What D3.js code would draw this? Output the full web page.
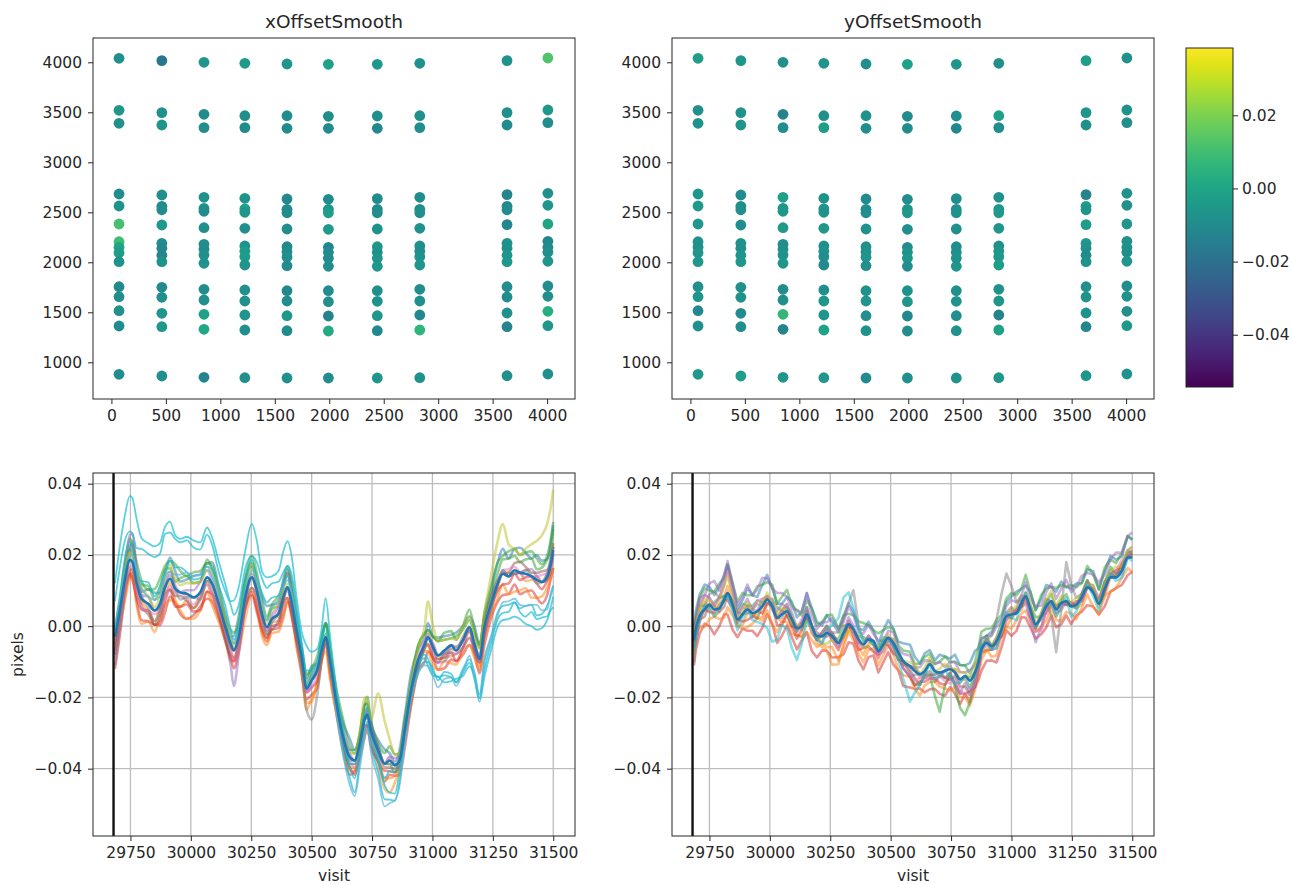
<!DOCTYPE html>
<html><head><meta charset="utf-8">
<script src="https://cdn.jsdelivr.net/npm/d3@7"></script>
<style>
html,body{margin:0;padding:0;background:#fff;}
svg{display:block;font-family:"DejaVu Sans",sans-serif;}
</style></head><body>
<svg id="chart" width="1292" height="884"></svg>
<script>
// ---------------- DATA ----------------
const scatterTitles = ["xOffsetSmooth", "yOffsetSmooth"];
const scatterXTicks = [0, 500, 1000, 1500, 2000, 2500, 3000, 3500, 4000];
const scatterYTicks = [1000, 1500, 2000, 2500, 3000, 3500, 4000];
const colorbarTicks = [-0.04, -0.02, 0.00, 0.02];
const visitTicks = [29750, 30000, 30250, 30500, 30750, 31000, 31250, 31500];
const pixelTicks = [-0.04, -0.02, 0.00, 0.02, 0.04];
const markerVisit = 29680;

const scatterColX = [70, 463, 850, 1225, 1612, 1992, 2441, 2831, 3632, 4007];
const scatterColY = [
  [4040, 3520, 3390, 2683, 2563, 2383, 2206, 2150, 2096, 2006, 1756, 1656, 1516, 1363, 880],
  [4017, 3497, 3373, 2673, 2560, 2525, 2373, 2190, 2140, 2070, 2006, 1750, 1650, 1490, 1356, 863],
  [4000, 3480, 3347, 2650, 2540, 2510, 2346, 2180, 2130, 2073, 1990, 1730, 1623, 1480, 1330, 850],
  [3990, 3466, 3347, 2640, 2535, 2500, 2340, 2163, 2110, 2056, 1973, 1723, 1613, 1473, 1323, 846],
  [3983, 3466, 3340, 2633, 2530, 2495, 2333, 2156, 2105, 2050, 1966, 1716, 1613, 1466, 1316, 843],
  [3980, 3460, 3340, 2630, 2530, 2495, 2330, 2150, 2100, 2040, 1960, 1716, 1606, 1463, 1313, 843],
  [3980, 3463, 3340, 2637, 2530, 2495, 2333, 2156, 2100, 2040, 1960, 1716, 1610, 1466, 1316, 843],
  [3990, 3466, 3347, 2650, 2530, 2495, 2340, 2163, 2110, 2056, 1973, 1730, 1613, 1473, 1323, 846],
  [4017, 3497, 3373, 2677, 2560, 2525, 2377, 2190, 2140, 2070, 2006, 1756, 1653, 1493, 1356, 866],
  [4043, 3523, 3397, 2690, 2570, 2383, 2210, 2150, 2100, 2010, 1763, 1660, 1510, 1366, 883]
];
const xOffsetVals = [
  [-0.008, -0.006, -0.008, -0.009, -0.007, 0.011, 0.010, 0.000, -0.003, -0.007, -0.010, -0.009, -0.008, -0.010, -0.009],
  [-0.018, -0.008, -0.006, -0.008, -0.010, -0.009, -0.005, -0.009, -0.011, -0.012, -0.007, -0.010, -0.008, -0.006, -0.005, -0.008],
  [-0.006, -0.010, -0.009, -0.007, -0.008, -0.010, -0.008, -0.009, -0.010, -0.008, -0.007, -0.009, -0.008, -0.002, 0.001, -0.013],
  [-0.004, -0.009, -0.010, -0.007, -0.002, -0.006, -0.008, -0.007, -0.003, -0.003, -0.006, -0.008, -0.007, -0.006, -0.008, -0.008],
  [-0.006, -0.009, -0.010, -0.011, -0.009, -0.010, -0.009, -0.011, -0.009, -0.008, -0.010, -0.011, -0.009, -0.005, -0.010, -0.008],
  [-0.002, -0.009, -0.010, -0.010, -0.006, -0.003, -0.004, -0.011, -0.010, -0.010, -0.009, -0.010, -0.008, -0.013, 0.002, -0.009],
  [-0.004, -0.008, -0.011, -0.010, -0.010, -0.009, -0.007, -0.006, -0.007, -0.006, -0.005, -0.008, -0.007, -0.005, -0.011, -0.006],
  [-0.007, -0.008, -0.009, -0.009, -0.010, -0.008, -0.007, -0.008, -0.009, -0.007, -0.006, -0.009, -0.008, -0.011, 0.006, -0.007],
  [-0.007, -0.008, -0.010, -0.012, -0.011, -0.010, -0.011, -0.007, -0.008, -0.006, -0.005, -0.009, -0.010, -0.008, -0.012, -0.008],
  [0.013, -0.005, -0.009, -0.008, -0.006, 0.000, -0.011, -0.010, -0.008, -0.006, -0.009, -0.008, 0.003, -0.006, -0.008]
];
const yOffsetVals = [
  [-0.003, -0.008, -0.007, -0.006, -0.004, -0.005, -0.007, -0.008, -0.006, -0.005, -0.008, -0.006, -0.011, -0.008, -0.004],
  [-0.006, -0.007, -0.006, -0.010, -0.009, -0.008, -0.009, -0.007, -0.008, -0.006, -0.005, -0.008, -0.007, -0.010, -0.009, -0.003],
  [-0.008, -0.013, -0.009, -0.002, -0.006, -0.005, -0.004, -0.009, -0.008, -0.007, -0.006, -0.009, -0.008, 0.007, -0.013, -0.006],
  [-0.006, -0.008, -0.003, -0.007, -0.006, -0.007, -0.005, -0.008, -0.007, -0.009, -0.010, -0.008, -0.005, -0.006, -0.001, -0.005],
  [-0.008, -0.007, -0.009, -0.010, -0.008, -0.009, -0.007, -0.008, -0.007, -0.006, -0.008, -0.007, -0.006, -0.008, -0.007, -0.010],
  [-0.002, -0.010, -0.010, -0.009, -0.006, -0.005, -0.008, -0.009, -0.007, -0.006, -0.009, -0.007, -0.006, -0.011, -0.009, -0.008],
  [-0.006, -0.008, -0.011, -0.009, -0.008, -0.007, -0.008, -0.009, -0.008, -0.007, -0.006, -0.008, -0.007, -0.009, -0.007, -0.007],
  [-0.008, -0.002, -0.009, -0.007, -0.006, -0.004, -0.006, -0.008, -0.006, -0.005, -0.003, -0.007, -0.006, -0.013, -0.002, -0.005],
  [-0.003, -0.006, -0.008, -0.013, -0.003, -0.006, -0.003, -0.005, -0.007, -0.010, -0.007, -0.008, -0.007, -0.007, -0.012, -0.006],
  [-0.007, -0.007, -0.008, -0.007, -0.008, -0.006, -0.008, -0.007, -0.009, -0.006, -0.009, -0.007, -0.008, -0.004, -0.007]
];

// x offset time series (left): visits and mean
const visitsL = [29686,29706,29726,29748,29758,29776,29796,29824,29850,29872,
 29893,29914,29935,29956,29983,30011,30039,30067,30088,30115,
 30143,30165,30178,30198,30225,30252,30273,30294,30315,30335,
 30363,30383,30400,30418,30438,30459,30479,30500,30523,30541,
 30558,30576,30603,30630,30658,30678,30699,30720,30730,30745,
 30775,30802,30823,30844,30864,30885,30912,30940,30968,30981,
 31002,31023,31050,31078,31098,31126,31153,31174,31195,31215,
 31243,31270,31291,31315,31340,31362,31385,31410,31432,31452,
 31475,31490,31500];
const meanL = [-0.0030,0.0044,0.0128,0.0186,0.0180,0.0119,0.0077,0.0063,0.0044,0.0063,
 0.0109,0.0133,0.0105,0.0095,0.0091,0.0081,0.0095,0.0137,0.0119,0.0063,
 -0.0003,-0.0050,-0.0068,-0.0031,0.0081,0.0137,0.0100,0.0035,-0.0003,0.0020,
 0.0035,0.0081,0.0109,0.0063,-0.0012,-0.0087,-0.0175,-0.0152,-0.0124,-0.0068,
 -0.0031,-0.0096,-0.0218,-0.0311,-0.0367,-0.0377,-0.0330,-0.0260,-0.0248,-0.0293,
 -0.0349,-0.0386,-0.0377,-0.0390,-0.0377,-0.0293,-0.0180,-0.0096,-0.0050,-0.0031,
 -0.0059,-0.0082,-0.0068,-0.0054,-0.0068,-0.0040,-0.0003,-0.0050,-0.0092,-0.0003,
 0.0063,0.0119,0.0147,0.0140,0.0157,0.0150,0.0147,0.0140,0.0130,0.0124,
 0.0138,0.0175,0.0213];
// per-detector residuals from the mean, in units of 0.001 pixel
const bandColorsL = ["#1f77b4","#d62728","#2ca02c","#ff7f0e",
                     "#ff7f0e","#2ca02c","#d62728","#9467bd","#8c564b","#e377c2","#7f7f7f","#bcbd22"];
const bandResidL = [
 [-5,-3,1,4,5,3,2,4,5,3, 4,6,5,3,4,6,5,4,6,5, 3,2,4,6,5,4,3,5,6,4, 3,5,6,4,3,2,3,4,2,3,
  4,3,2,4,5,3,2,4,3,2, 3,4,2,1,3,4,5,3,2,4, 3,5,4,3,5,4,3,5,4,3, 4,6,7,5,6,7,6,5,7,6, 5,6,7],
 [-9,-7,-5,-4,-3,-5,-6,-5,-4,-6, -7,-5,-4,-6,-7,-5,-4,-6,-5,-4, -3,-4,-5,-4,-3,-5,-6,-5,-4,-3, -4,-5,-4,-3,-4,-5,-3,-4,-5,-3,
  -2,-4,-3,-4,-5,-3,-4,-5,-3,-4, -3,-5,-4,-3,-4,-5,-4,-3,-5,-4, -3,-4,-5,-4,-3,-4,-5,-3,-4,-5, -4,-5,-6,-5,-4,-6,-5,-4,-5,-6, -5,-4,-5],
 [-1,1,4,6,5,6,5,4,6,7, 6,5,7,6,5,7,6,4,5,4, 3,4,5,4,5,6,5,4,3,4, 5,4,5,6,4,3,4,3,2,3,
  4,3,4,5,3,2,3,4,5,3, 2,3,4,3,2,3,2,4,3,2, 3,4,5,4,3,4,5,4,3,4, 5,6,5,7,6,5,6,7,6,5, 6,7,8],
 [-2,-4,-6,-5,-4,-6,-7,-5,-6,-4, -5,-6,-4,-5,-7,-6,-5,-4,-6,-5, -4,-5,-3,-4,-6,-5,-4,-6,-5,-4, -5,-6,-4,-3,-5,-4,-6,-5,-4,-3,
  -4,-5,-3,-2,-4,-3,-2,-4,-5,-3, -2,-4,-5,-3,-2,-3,-4,-3,-2,-4, -5,-4,-3,-5,-4,-3,-5,-4,-3,-2, -3,-4,-3,-5,-6,-5,-4,-6,-5,-4, -3,-4,-5],
 [-3,-2,-1,-2,-4,-3,-1,-2,-3,-1, -2,-1,-3,-4,-2,-3,-1,-2,-4,-3, -2,-1,-3,-2,-1,-3,-2,-4,-3,-1, -2,-1,-3,-2,-2,-3,-4,-6,-3,-2,
  -1,-3,-2,-1,-3,-2,-1,-2,-3,-1, -4,-7,-9,-5,-2,-1,-3,-2,-1,-2, -3,-1,-2,-3,-1,-2,-3,-1,-2,-3, -2,-1,0,1,-1,0,-2,-1,1,0, -1,0,1],
 [2,3,4,3,2,3,4,5,3,4, 5,3,2,4,5,4,3,5,4,3, 2,1,2,3,4,3,2,1,2,3, 2,3,4,3,2,1,2,3,4,3,
  4,3,2,1,2,3,2,4,3,2, 1,0,-1,-2,1,2,3,4,3,2, 3,4,3,2,4,3,2,3,4,3, 2,3,4,5,4,3,4,5,3,4, 5,4,6],
 [-5,-4,-3,-4,-5,-4,-3,-2,-4,-5, -4,-3,-5,-4,-3,-4,-5,-4,-3,-2, -3,-4,-3,-2,-3,-4,-5,-4,-3,-2, -3,-2,-3,-4,-3,-2,-1,-2,-3,-2,
  -1,-2,-1,-2,-3,-4,-3,-2,-3,-4, -3,-2,-3,-2,-1,-2,-3,-2,-1,-2, -3,-2,-1,-2,-3,-2,-1,-2,-1,-2, -1,-2,-3,-2,-1,-2,-1,0,-1,-2, -1,-2,-1],
 [-2,0,3,7,8,4,1,2,0,-1, 1,2,1,0,1,2,3,2,1,0, -2,-6,-10,-5,-1,0,1,0,-1,1, 2,3,4,3,1,0,-1,0,1,0,
  -1,0,1,2,1,0,-1,0,1,2, 1,0,1,2,1,0,-1,-2,-1,0, -1,-2,-3,-2,-1,-2,-3,-2,-1,-2, -1,0,1,0,-1,0,1,2,1,0, 1,2,1],
 [-4,-3,-2,-3,-2,-1,-2,-3,-4,-3, -2,-3,-2,-1,-2,-3,-2,-1,-2,-3, -4,-3,-2,-1,-2,-3,-2,-1,-2,-3, -2,-1,0,-1,-2,-1,0,1,0,-1,
  0,1,0,-1,-2,-1,0,1,2,1, 0,-1,-2,-1,0,1,0,-1,0,1, 0,-1,-2,-1,0,1,0,-1,0,1, 2,1,0,1,2,3,2,1,2,3, 2,1,2],
 [-6,-5,-3,-2,-1,-2,-3,-2,-1,-2, -3,-2,-1,0,-1,-2,-1,-2,-3,-2, -1,-2,-3,-2,-1,0,-1,-2,-1,0, 1,0,-1,0,1,0,-1,-2,-1,0,
  -1,0,1,0,-1,-2,-1,0,-1,-2, -1,0,1,0,-1,0,1,2,1,0, 1,0,-1,0,1,0,-1,0,1,0, -1,0,1,2,1,0,-1,0,1,2, 1,0,-1],
 [-8,-5,-2,2,6,3,1,-1,-3,-2, 0,1,0,-2,-1,0,-2,-1,0,1, 0,-1,0,1,2,1,0,-1,-2,-1, 0,1,0,-1,-2,-4,-6,-11,-7,-3,
  -1,0,1,0,-1,0,1,0,-1,0, 1,0,-1,0,1,2,1,0,-1,0, 1,0,-1,0,1,0,-1,0,1,0, -1,0,1,0,-1,0,1,0,-1,0, 1,0,1],
 [0,2,3,2,1,2,3,2,1,2, 3,4,3,2,3,4,3,2,3,4, 3,2,1,2,3,4,3,2,1,2, 3,2,1,2,1,0,1,2,1,0,
  1,2,1,0,1,2,3,6,4,3, 16,12,6,3,2,1,2,3,5,10, 6,4,3,2,3,4,3,2,3,4, 8,12,14,9,6,5,7,9,11,13, 15,16,17]
];
const outColorsL = ["#17becf","#17becf","#17becf","#5fb3d9"];
const outResidL = [
 [15,18,18,18,18,18,17,17,18,17, 17,16,15,15,16,16,14,14,13,12, 12,12,14,14,13,15,14,12,14,12, 12,13,13,13,9,7,12,8,6,6,
  11,7,4,2,-2,-1,0,1,0,-1, -3,-4,-3,-2,0,1,0,-1,-3,-6, -7,-6,-7,-9,-9,-9,-10,-10,-12,-14, -13,-12,-13,-12,-13,-13,-14,-14,-14,-13, -12,-13,-16],
 [10,12,11,8,8,10,14,14,15,14, 15,13,14,14,15,14,12,12,11,9, 10,11,10,9,8,6,8,10,11,10, 9,7,6,8,6,4,5,3,2,3,
  3,2,1,-1,-3,-5,-2,1,2,1, -2,-6,-9,-8,-3,0,1,-1,-4,-8, -8,-6,-9,-10,-8,-10,-11,-9,-11,-12, -11,-10,-11,-10,-9,-11,-12,-10,-11,-10, -11,-12,-13],
 [3,4,6,5,4,3,5,6,4,5, 4,5,6,7,6,5,4,3,4,5, 6,4,3,3,4,5,4,6,7,6, 5,4,3,2,3,2,1,2,1,0,
  1,-1,-2,-4,-6,-9,-5,-3,-2,-4, -6,-10,-11,-10,-6,-3,-2,-3,-5,-7, -6,-7,-6,-8,-9,-8,-9,-8,-10,-9, -9,-8,-9,-8,-9,-10,-9,-8,-10,-9, -8,-9,-10],
 [2,3,2,1,2,4,3,2,3,2, 3,2,4,5,6,6,5,3,2,3, 4,3,2,2,1,2,3,3,2,3, 4,3,2,3,2,1,0,1,2,1,
  0,-1,-3,-5,-8,-10,-7,-5,-4,-6, -8,-12,-12,-10,-7,-4,-3,-4,-6,-8, -8,-9,-8,-9,-10,-9,-8,-9,-11,-10, -10,-9,-8,-7,-8,-9,-9,-8,-7,-8, -9,-8,-10]
];

// y offset time series (right)
const visitsR = [29686,29693,29709,29730,29750,29770,29791,29811,29825,29846,
 29866,29887,29907,29928,29948,29969,29989,30010,30030,30050,
 30071,30091,30112,30132,30153,30174,30195,30216,30236,30257,
 30284,30305,30326,30346,30367,30387,30408,30429,30449,30470,
 30490,30511,30532,30552,30580,30600,30621,30641,30662,30683,
 30703,30725,30746,30766,30787,30808,30828,30849,30863,30876,
 30897,30918,30938,30959,30979,31000,31021,31041,31059,31078,
 31100,31124,31144,31165,31185,31206,31227,31247,31268,31291,
 31314,31338,31362,31386,31410,31433,31457,31481,31500];
const meanR = [-0.0040,-0.0009,0.0028,0.0047,0.0060,0.0047,0.0050,0.0074,0.0093,0.0060,
 0.0019,0.0033,0.0047,0.0037,0.0042,0.0056,0.0074,0.0056,0.0023,0.0033,
 0.0042,0.0019,-0.0005,0.0000,0.0033,0.0000,-0.0028,-0.0028,-0.0019,-0.0028,
 -0.0047,-0.0019,0.0005,-0.0009,-0.0037,-0.0051,-0.0037,-0.0042,-0.0070,-0.0051,
 -0.0033,-0.0047,-0.0074,-0.0098,-0.0112,-0.0126,-0.0135,-0.0126,-0.0107,-0.0126,
 -0.0130,-0.0125,-0.0121,-0.0130,-0.0149,-0.0140,-0.0153,-0.0130,-0.0102,-0.0065,
 -0.0047,-0.0056,-0.0042,-0.0009,0.0028,0.0033,0.0037,0.0065,0.0084,0.0047,
 0.0005,0.0028,0.0056,0.0070,0.0047,0.0065,0.0070,0.0056,0.0060,0.0081,
 0.0109,0.0095,0.0063,0.0105,0.0137,0.0137,0.0156,0.0193,0.0193];
const bandColorsR = ["#1f77b4","#d62728","#2ca02c","#ff7f0e","#9467bd",
                     "#ff7f0e","#2ca02c","#d62728","#9467bd","#8c564b","#e377c2","#7f7f7f","#bcbd22","#17becf"];
const bandResidR = [
 [4,5,6,7,5,4,6,7,8,5, 3,4,6,5,4,6,7,5,4,3, 4,5,3,4,6,5,4,3,5,4, 3,4,6,5,3,4,5,3,2,4,
  5,4,3,5,6,4,3,5,4,3, 5,4,3,5,4,3,5,6,4,3, 2,4,5,3,4,5,6,4,3,5, 4,5,6,4,5,6,4,5,6,4, 5,6,4,5,6,5,4,6,5],
 [-7,-6,-5,-4,-6,-7,-5,-4,-6,-7, -5,-4,-6,-5,-7,-6,-4,-5,-7,-6, -4,-5,-6,-4,-5,-7,-6,-4,-5,-6, -4,-6,-5,-4,-6,-7,-5,-4,-6,-5,
  -4,-6,-5,-7,-6,-5,-4,-6,-7,-5, -6,-7,-5,-6,-7,-5,-6,-4,-5,-6, -5,-4,-6,-5,-4,-6,-5,-4,-6,-5, -4,-5,-6,-4,-5,-6,-4,-5,-3,-4, -5,-4,-3,-5,-4,-3,-4,-5,-4],
 [2,3,5,6,4,5,7,6,8,6, 5,6,4,5,7,6,5,6,4,5, 6,4,5,3,4,5,3,4,5,6, 4,5,3,4,5,6,4,3,5,4,
  3,4,2,3,4,2,3,4,3,2, 3,4,2,3,4,3,2,3,4,5, 4,5,6,4,5,6,5,4,6,5, 4,6,5,4,6,5,4,6,5,4, 6,5,4,6,5,4,5,6,5],
 [-4,-2,-3,-5,-4,-2,-3,-5,-4,-3, -2,-4,-5,-3,-2,-4,-3,-5,-4,-2, -3,-4,-2,-3,-5,-4,-3,-2,-4,-3, -5,-4,-2,-3,-4,-5,-3,-2,-4,-3,
  -2,-3,-5,-4,-3,-5,-6,-4,-5,-3, -4,-5,-6,-4,-5,-6,-7,-5,-4,-3, -2,-3,-4,-2,-3,-4,-2,-3,-4,-3, -2,-3,-4,-2,-3,-5,-3,-2,-4,-3, -2,-4,-3,-2,-4,-3,-2,-3,-4],
 [1,3,5,4,6,8,5,7,9,6, 4,5,7,5,6,8,6,5,7,6, 4,3,5,4,6,3,2,4,3,5, 4,3,5,4,2,3,4,2,3,1,
  2,3,1,2,3,1,2,3,1,2, 3,1,2,3,2,1,3,2,1,3, 2,3,4,2,3,4,3,2,4,3, 5,3,4,5,3,4,6,4,5,6, 4,5,6,4,5,7,5,6,7],
 [-3,-1,1,2,0,-2,-1,1,2,0, -2,-3,-1,0,-2,-3,-1,1,0,-2, -1,0,-2,-3,-1,0,-2,-3,-5,-8, -6,-3,-1,0,-2,-3,-1,0,-2,-1,
  1,0,-2,-1,0,1,-1,-2,-3,-1, 0,-2,-1,1,0,-1,-2,0,1,-1, -2,-1,0,-2,-3,-1,0,-2,-1,0, -2,-3,-1,0,-2,-1,0,1,-1,-2, 0,1,-1,-2,0,1,2,0,1],
 [1,2,3,1,0,2,3,1,-1,0, 2,3,1,2,3,1,0,2,3,1, 2,0,-1,1,2,0,-1,1,2,0, 1,2,0,-1,1,2,0,-1,1,2,
  0,-1,-2,0,-2,-4,-3,-1,-3,-7, -11,-4,-1,-4,-8,-11,-6,-2,0,1, 2,0,1,2,0,-1,1,2,0,1, 2,0,1,2,0,1,2,0,-1,1, 2,0,1,2,3,1,0,2,1],
 [-2,-3,-1,0,-2,-1,1,0,-2,-1, 0,-2,-3,-1,0,-2,-1,0,-2,-3, -1,-2,-3,-1,0,-2,-1,0,1,-1, -2,-1,0,-2,-3,-1,-2,-3,-1,0,
  -2,-3,-1,-2,-3,-4,-2,-3,-4,-2, -3,-4,-2,-3,-4,-5,-3,-4,-2,-1, -2,-1,0,-2,-1,0,1,-1,0,-2, -1,0,-2,-1,1,0,-1,0,1,-1, 0,1,0,-1,1,2,1,0,1],
 [0,1,3,4,2,1,3,5,7,4, 1,2,3,1,0,2,1,0,2,3, 1,0,-1,1,2,0,-1,-2,0,1, -1,0,2,1,0,-1,1,0,-1,-2,
  0,1,-1,-2,-3,-1,0,-2,-3,-1, 0,-2,-1,-3,-4,-2,-3,-4,-2,-1, 0,-1,-2,-1,0,1,0,-1,-2,-3, -5,-3,-1,0,-1,-2,0,1,0,-1, 1,2,1,0,1,0,-1,0,1],
 [-1,0,-1,-2,0,1,-1,-2,0,1, -1,0,1,-1,-2,0,1,-1,0,1, -1,-2,0,1,-1,0,1,0,-1,1, 0,-1,1,0,-1,0,1,-1,0,1,
  0,-1,-2,0,-1,-2,-3,-1,-2,-3, -1,-2,-3,-1,-2,-3,-4,-2,-1,0, 1,0,-1,0,1,2,0,-1,1,0, -1,1,2,0,1,0,-1,1,0,1, 2,0,1,2,1,0,2,1,2],
 [2,1,3,4,2,1,3,4,6,3, 1,2,0,1,3,2,1,2,0,1, 2,1,0,2,1,-1,0,1,2,0, -1,0,1,-1,-2,0,1,-1,-2,0,
  -1,-2,-1,0,-2,-3,-1,-2,-4,-2, -1,-3,-4,-2,-3,-5,-4,-3,-1,0, -1,0,1,0,-1,0,1,2,0,-1, -2,-4,-1,0,1,-1,0,1,0,-1, 0,1,2,0,1,2,3,2,3],
 [-6,-4,-2,1,3,5,3,1,0,1, 2,0,-1,1,2,0,-1,1,0,-1, 1,2,0,-1,1,0,-1,1,2,1, 3,5,6,11,4,1,0,-1,1,0,
  -1,0,1,-1,0,1,0,-1,1,0, -1,0,1,0,-1,0,1,0,-1,0, 1,3,6,10,12,8,3,1,0,1, 0,-1,1,-4,-12,-2,11,6,2,1, 0,1,0,1,2,1,0,1,0],
 [1,0,2,3,1,0,2,4,5,2, 0,1,2,0,-1,1,2,0,1,2, 0,-1,1,0,-2,-1,0,-2,-3,-1, 0,-1,-2,0,1,-1,-2,0,1,-1,
  0,1,-1,0,1,2,0,1,2,0, 1,2,0,1,2,1,0,2,1,-1, -2,0,1,-1,0,1,2,0,1,2, 0,1,2,3,1,2,0,1,2,0, 1,2,0,1,2,3,1,2,3],
 [-3,-2,0,1,-1,-2,0,1,-1,-2, -3,-1,0,-2,-3,-5,-8,-10,-6,-3, -5,-8,-9,-5,-2,0,-1,-2,1,3, 7,10,9,6,3,1,0,-1,0,1,
  0,-1,-2,-5,-10,-6,-3,-1,0,-2, -1,0,-2,-3,-1,0,-2,-1,0,1, 0,-1,-2,0,1,-1,-2,0,1,0, -1,0,1,-1,-2,0,1,-3,-2,0, 1,-1,-2,0,1,-1,-2,0,-1]
];

// ---------------- LAYOUT ----------------
const svg = d3.select('#chart');
const FS = 15.5, TITLE_FS = 18.5, INK = '#262626';
const P = {
  tl:{x0:93, x1:575, y0:38, y1:399},
  tr:{x0:672, x1:1154, y0:38, y1:399},
  bl:{x0:93, x1:575, y0:473, y1:836},
  br:{x0:672, x1:1154, y0:473, y1:836}
};
const CB = {x0:1186, x1:1233, y0:48, y1:387};
const cDomain = [-0.0543, 0.0384];
const color = v => d3.interpolateViridis((v - cDomain[0]) / (cDomain[1] - cDomain[0]));

function styleAxis(g){
  g.select('.domain').remove();
  g.selectAll('.tick line').attr('stroke', INK).attr('stroke-width', 1);
  g.selectAll('.tick text').attr('font-size', FS).attr('fill', INK).attr('font-family', '"DejaVu Sans", sans-serif');
}
function frame(p){
  svg.append('rect').attr('x', p.x0).attr('y', p.y0).attr('width', p.x1 - p.x0).attr('height', p.y1 - p.y0)
    .attr('fill', 'none').attr('stroke', INK).attr('stroke-width', 1);
}

// ---------------- SCATTER PANELS ----------------
function scatterPanel(p, vals, title){
  const x = d3.scaleLinear().domain([-169, 4256]).range([p.x0, p.x1]);
  const y = d3.scaleLinear().domain([633, 4243]).range([p.y1, p.y0]);
  const pts = [];
  scatterColX.forEach((cx, ci) => {
    const ys = scatterColY[ci], vs = vals[ci];
    for (let j = 0; j < Math.min(ys.length, vs.length); j++) pts.push({x: cx, y: ys[j], v: vs[j]});
  });
  svg.append('g').selectAll('circle').data(pts).join('circle')
    .attr('cx', d => x(d.x)).attr('cy', d => y(d.y)).attr('r', 5.4)
    .attr('fill', d => color(d.v));
  const gx = svg.append('g').attr('transform', `translate(0,${p.y1})`)
    .call(d3.axisBottom(x).tickValues(scatterXTicks).tickSize(5).tickPadding(6).tickFormat(d3.format('d')));
  styleAxis(gx);
  const gy = svg.append('g').attr('transform', `translate(${p.x0},0)`)
    .call(d3.axisLeft(y).tickValues(scatterYTicks).tickSize(5).tickPadding(6).tickFormat(d3.format('d')));
  styleAxis(gy);
  frame(p);
  svg.append('text').attr('x', (p.x0 + p.x1) / 2).attr('y', 28).attr('text-anchor', 'middle')
    .attr('font-size', TITLE_FS).attr('fill', INK).text(title);
}
scatterPanel(P.tl, xOffsetVals, scatterTitles[0]);
scatterPanel(P.tr, yOffsetVals, scatterTitles[1]);

// ---------------- COLORBAR ----------------
const defs = svg.append('defs');
const grad = defs.append('linearGradient').attr('id', 'vir').attr('x1', 0).attr('y1', 1).attr('x2', 0).attr('y2', 0);
d3.range(0, 1.0001, 0.05).forEach(t => grad.append('stop').attr('offset', t).attr('stop-color', d3.interpolateViridis(t)));
svg.append('rect').attr('x', CB.x0).attr('y', CB.y0).attr('width', CB.x1 - CB.x0).attr('height', CB.y1 - CB.y0)
  .attr('fill', 'url(#vir)').attr('stroke', INK).attr('stroke-width', 1);
const cy = d3.scaleLinear().domain(cDomain).range([CB.y1, CB.y0]);
const gcb = svg.append('g').attr('transform', `translate(${CB.x1},0)`)
  .call(d3.axisRight(cy).tickValues(colorbarTicks).tickSize(5).tickPadding(4).tickFormat(d3.format('.2f')));
styleAxis(gcb);

// ---------------- LINE PANELS ----------------
function linePanel(p, id, visits, mean, bandColors, bandResid, outColors, outResid, yLabel, bandCurve){
  const x = d3.scaleLinear().domain([29595, 31590]).range([p.x0, p.x1]);
  const y = d3.scaleLinear().domain([-0.0589, 0.0430]).range([p.y1, p.y0]);
  defs.append('clipPath').attr('id', id).append('rect')
    .attr('x', p.x0).attr('y', p.y0).attr('width', p.x1 - p.x0).attr('height', p.y1 - p.y0);
  const gg = svg.append('g');
  gg.selectAll('.vg').data(visitTicks).join('line')
    .attr('x1', d => x(d)).attr('x2', d => x(d)).attr('y1', p.y0).attr('y2', p.y1)
    .attr('stroke', '#bdbdbd').attr('stroke-width', 1.3);
  gg.selectAll('.hg').data(pixelTicks).join('line')
    .attr('x1', p.x0).attr('x2', p.x1).attr('y1', d => y(d)).attr('y2', d => y(d))
    .attr('stroke', '#bdbdbd').attr('stroke-width', 1.3);
  const smooth = d3.line().x(d => x(d[0])).y(d => y(d[1])).curve(d3.curveMonotoneX);
  const bandLine = d3.line().x(d => x(d[0])).y(d => y(d[1])).curve(bandCurve);
  const series = resid => {
    const n = Math.min(visits.length, mean.length, resid.length), out = [];
    for (let i = 0; i < n; i++) out.push([visits[i], mean[i] + resid[i] * 0.001]);
    return out;
  };
  const gl = svg.append('g').attr('clip-path', `url(#${id})`);
  bandResid.forEach((r, k) => {
    gl.append('path').attr('d', bandLine(series(r))).attr('fill', 'none')
      .attr('stroke', bandColors[k]).attr('stroke-width', 2.6).attr('stroke-opacity', 0.5)
      .attr('stroke-linejoin', 'round');
  });
  outResid.forEach((r, k) => {
    gl.append('path').attr('d', smooth(series(r))).attr('fill', 'none')
      .attr('stroke', outColors[k]).attr('stroke-width', 1.8).attr('stroke-opacity', 0.7);
  });
  const meanPts = visits.map((v, i) => [v, mean[i]]).filter(d => d[1] !== undefined);
  gl.append('path').attr('d', smooth(meanPts)).attr('fill', 'none')
    .attr('stroke', '#1f77b4').attr('stroke-width', 2.6);
  gl.append('line').attr('x1', x(markerVisit)).attr('x2', x(markerVisit)).attr('y1', p.y0).attr('y2', p.y1)
    .attr('stroke', '#111').attr('stroke-width', 2.4);
  const gx = svg.append('g').attr('transform', `translate(0,${p.y1})`)
    .call(d3.axisBottom(x).tickValues(visitTicks).tickSize(5).tickPadding(6).tickFormat(d3.format('d')));
  styleAxis(gx);
  const gy = svg.append('g').attr('transform', `translate(${p.x0},0)`)
    .call(d3.axisLeft(y).tickValues(pixelTicks).tickSize(5).tickPadding(6).tickFormat(d3.format('.2f')));
  styleAxis(gy);
  frame(p);
  svg.append('text').attr('x', (p.x0 + p.x1) / 2).attr('y', 881).attr('text-anchor', 'middle')
    .attr('font-size', FS).attr('fill', INK).text('visit');
  if (yLabel) {
    svg.append('text').attr('transform', `translate(23,${(p.y0 + p.y1) / 2}) rotate(-90)`)
      .attr('text-anchor', 'middle').attr('font-size', FS).attr('fill', INK).text(yLabel);
  }
}
linePanel(P.bl, 'clipL', visitsL, meanL, bandColorsL, bandResidL, outColorsL, outResidL, 'pixels', d3.curveMonotoneX);
linePanel(P.br, 'clipR', visitsR, meanR, bandColorsR, bandResidR, [], [], null, d3.curveLinear);
</script>
</body></html>
